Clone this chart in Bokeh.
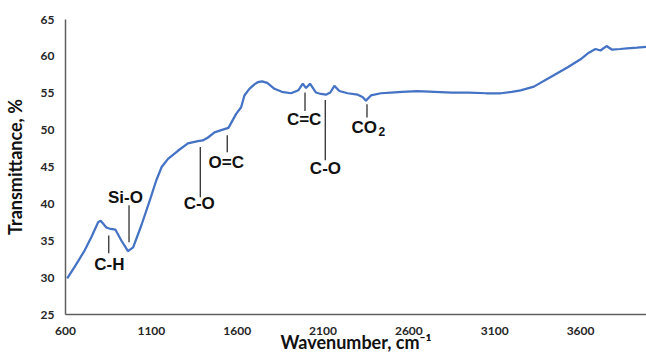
import math
from bokeh.plotting import figure
from bokeh.models import Range1d, FixedTicker, ColumnDataSource
from bokeh.core.properties import value
from bokeh.embed import file_html
from bokeh.resources import INLINE

# ---- data ----
wavenumber = [610, 654, 712, 751, 790, 805, 838, 863, 891, 926, 964, 994, 1042, 1090, 1129,
              1160, 1197, 1255, 1313, 1371, 1400, 1430, 1468, 1507, 1549, 1594, 1623, 1642,
              1671, 1700, 1720, 1745, 1775, 1817, 1860, 1914, 1956, 1982, 2001, 2024, 2059,
              2088, 2117, 2142, 2166, 2195, 2243, 2302, 2330, 2350, 2379, 2437, 2495, 2560,
              2650, 2750, 2850, 2950, 3050, 3135, 3200, 3251, 3328, 3426, 3523, 3600, 3648,
              3687, 3716, 3751, 3784, 3830, 3871, 3929, 3984]
transmittance = [29.9, 31.5, 33.7, 35.5, 37.5, 37.7, 36.8, 36.6, 36.5, 35.0, 33.6, 34.1, 37.1,
                 40.4, 43.2, 45.0, 46.1, 47.2, 48.2, 48.5, 48.6, 49.0, 49.7, 50.0, 50.3, 52.2,
                 53.1, 54.7, 55.6, 56.2, 56.5, 56.6, 56.4, 55.6, 55.2, 55.0, 55.4, 56.3, 55.7,
                 56.3, 55.1, 54.9, 54.8, 55.1, 56.0, 55.3, 55.0, 54.8, 54.5, 54.0, 54.7, 55.0,
                 55.1, 55.2, 55.3, 55.2, 55.1, 55.1, 55.0, 55.0, 55.2, 55.4, 55.9, 57.2, 58.5,
                 59.6, 60.5, 61.0, 60.8, 61.4, 60.9, 61.0, 61.1, 61.2, 61.3]

# band annotations
band_labels = ["C-H", "Si-O", "C-O", "O=C", "C=C", "C-O", "CO"]
band_x = [852, 970, 1385, 1542, 1995, 2113, 2356]
band_line_top = [35.7, 39.8, 47.7, 49.3, 55.1, 54.1, 53.5]
band_line_bottom = [33.3, 34.8, 40.9, 47.0, 52.6, 45.9, 51.7]
band_label_x = [856, 949, 1379, 1536, 1990, 2114, 2340]
band_label_y = [31.8, 40.9, 40.0, 45.6, 51.4, 44.8, 50.4]
sub_label = ["2"]
sub_x = [2443]
sub_y = [49.8]

x_ticks = [600, 1100, 1600, 2100, 2600, 3100, 3600]
y_ticks = [25, 30, 35, 40, 45, 50, 55, 60, 65]

x_title = "Wavenumber, cm\u207b\u00b9"
y_title = "Transmittance, %"

X_MIN, X_MAX = 600, 3984
Y_MIN, Y_MAX = 25, 65

p = figure(width=646, height=356, x_range=Range1d(X_MIN, X_MAX), y_range=Range1d(Y_MIN, Y_MAX),
           output_backend="svg", toolbar_location=None,
           min_border_left=64, min_border_right=0, min_border_top=19,
           min_border_bottom=42)
p.outline_line_color = None
p.grid.visible = False
p.background_fill_color = "white"
p.border_fill_color = "white"

for ax in (p.xaxis[0], p.yaxis[0]):
    ax.axis_line_color = "#5f5f5f"
    ax.axis_line_width = 1.5
    ax.major_tick_line_color = None
    ax.minor_tick_line_color = None
    ax.major_tick_out = 0
    ax.major_tick_in = 0
    ax.major_label_text_font = "Lato"
    ax.major_label_text_font_style = "bold"
    ax.major_label_text_font_size = "12px"
    ax.major_label_text_color = "#262626"
    ax.axis_label_text_font = "Lato"
    ax.axis_label_text_font_style = "bold"
    ax.axis_label_text_font_size = "18px"
    ax.axis_label_text_color = "#111111"

p.xaxis.ticker = FixedTicker(ticks=x_ticks)
p.yaxis.ticker = FixedTicker(ticks=y_ticks)
p.xaxis.major_label_standoff = 12
p.yaxis.major_label_standoff = 11
p.xaxis.axis_label = x_title
p.yaxis.axis_label = y_title
p.xaxis.axis_label_standoff = -7
p.yaxis.axis_label_standoff = 12

p.line(wavenumber, transmittance, line_color="#4472C4", line_width=2.25)

p.segment(x0=band_x, y0=band_line_top, x1=band_x, y1=band_line_bottom,
          line_color="#1f1f1f", line_width=1.2)

src = ColumnDataSource(dict(x=band_label_x, y=band_label_y, text=band_labels))
p.text(x="x", y="y", text="text", source=src, text_font=value("Liberation Sans"),
       text_font_style="bold", text_font_size="17px", text_align="center",
       text_baseline="middle", text_color="#111111")
p.text(x=sub_x, y=sub_y, text=sub_label, text_font=value("Liberation Sans"),
       text_font_style="bold", text_font_size="12px", text_align="center",
       text_baseline="middle", text_color="#111111")

open("out.html", "w").write(file_html(p, INLINE))
